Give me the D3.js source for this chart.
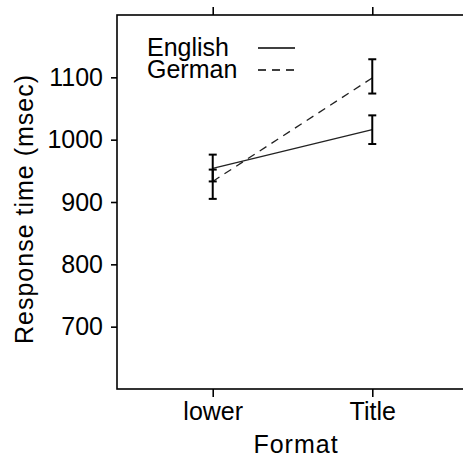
<!DOCTYPE html>
<html>
<head>
<meta charset="utf-8">
<script src="https://cdn.jsdelivr.net/npm/d3@7"></script>
<style>
  html, body { margin: 0; padding: 0; background: #fff; }
  svg text { font-family: "Liberation Sans", Arial, sans-serif; fill: #000; }
</style>
</head>
<body>
<svg id="chart" width="463" height="457"></svg>
<script>
// ---- data ----
const categories = ["lower", "Title"];
const seriesNames = ["English", "German"];
const englishMean = [954, 1016];
const englishLow  = [933, 993];
const englishHigh = [976, 1039];
const germanMean  = [933, 1099];
const germanLow   = [905, 1074];
const germanHigh  = [952, 1129];
const yTicks = [700, 800, 900, 1000, 1100];
const xLabel = "Format";
const yLabel = "Response time (msec)";

// ---- layout ----
const svg = d3.select("#chart");
const L = 117, R = 468, T = 15, B = 389;
const fs = 25;

const x = d3.scalePoint().domain(categories).range([L, R]).padding(0.6);
const y = d3.scaleLinear().domain([600, 1200]).range([B, T]);

const series = [
  { name: seriesNames[0], mean: englishMean, lo: englishLow, hi: englishHigh, dash: null },
  { name: seriesNames[1], mean: germanMean, lo: germanLow, hi: germanHigh, dash: "8,6" }
];

// box
svg.append("rect").attr("x", L).attr("y", T).attr("width", R - L).attr("height", B - T)
  .attr("fill", "none").attr("stroke", "#000").attr("stroke-width", 1.6);

// axes
const gl = svg.append("g").attr("transform", `translate(${L},0)`)
  .call(d3.axisLeft(y).tickValues(yTicks).tickSize(6).tickPadding(8).tickFormat(d3.format("d")));
const gb = svg.append("g").attr("transform", `translate(0,${B})`)
  .call(d3.axisBottom(x).tickSize(8).tickPadding(5));
const gt = svg.append("g").attr("transform", `translate(0,${T})`)
  .call(d3.axisTop(x).tickSize(8).tickFormat(""));
[gl, gb, gt].forEach(g => {
  g.select(".domain").remove();
  g.selectAll(".tick line").attr("stroke", "#000").attr("stroke-width", 1.6);
  g.selectAll(".tick text").attr("font-size", fs).attr("font-family", "Liberation Sans, Arial, sans-serif").attr("fill", "#000");
});

// lines
const line = d3.line().x((d, i) => x(categories[i])).y(d => y(d));
series.forEach(s => {
  svg.append("path").datum(s.mean).attr("d", line)
    .attr("fill", "none").attr("stroke", "#222").attr("stroke-width", 1.3)
    .attr("stroke-dasharray", s.dash);
});

// error bars
const capW = 4;
series.forEach(s => {
  categories.forEach((c, i) => {
    const cx = x(c);
    svg.append("line").attr("x1", cx).attr("x2", cx).attr("y1", y(s.lo[i])).attr("y2", y(s.hi[i]))
      .attr("stroke", "#000").attr("stroke-width", 2);
    [s.lo[i], s.hi[i]].forEach(v => {
      svg.append("line").attr("x1", cx - capW).attr("x2", cx + capW).attr("y1", y(v)).attr("y2", y(v))
        .attr("stroke", "#000").attr("stroke-width", 2);
    });
  });
});

// legend
series.forEach((s, i) => {
  const by = 56 + i * 22;
  svg.append("text").attr("x", 147).attr("y", by).attr("font-size", fs).text(s.name);
  svg.append("line").attr("x1", 258).attr("x2", 295).attr("y1", by - 8).attr("y2", by - 8)
    .attr("stroke", "#000").attr("stroke-width", 1.5).attr("stroke-dasharray", s.dash);
});

// axis titles
svg.append("text").attr("x", 296).attr("y", 453)
  .attr("text-anchor", "middle").attr("font-size", fs).attr("letter-spacing", 1).text(xLabel);
svg.append("text").attr("transform", `translate(33,209) rotate(-90)`)
  .attr("text-anchor", "middle").attr("font-size", fs).attr("letter-spacing", 1).text(yLabel);
</script>
</body>
</html>
